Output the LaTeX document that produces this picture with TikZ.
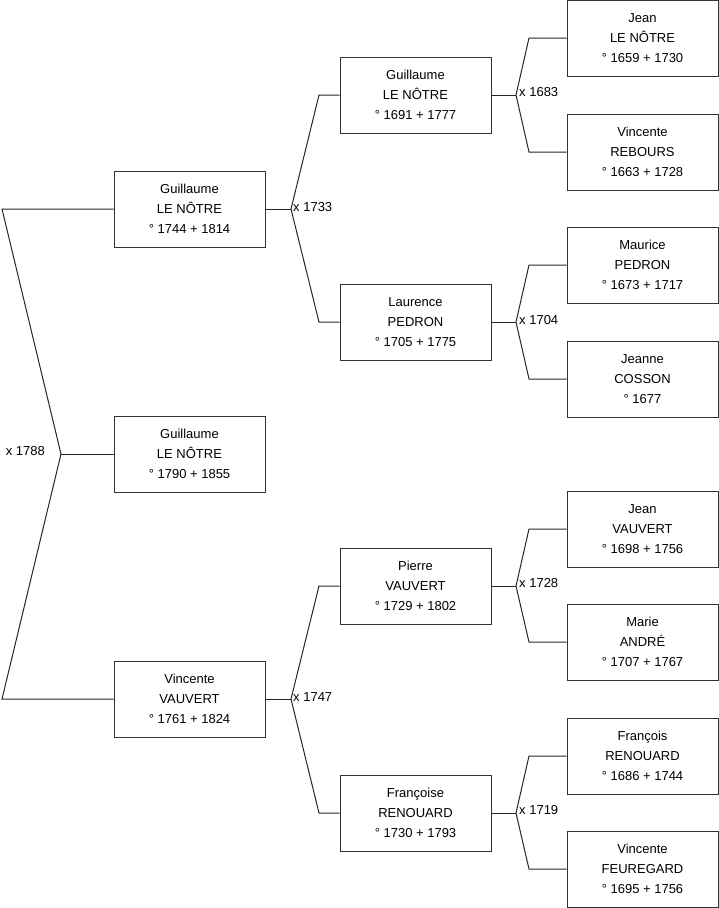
\documentclass[tikz,border=0pt]{standalone}
\usepackage{fontspec}
\setmainfont{Liberation Sans}
\begin{document}
\begin{tikzpicture}[x=1pt,y=-1pt,
  person/.style={draw=black!80,line width=1pt,fill=white,minimum width=151pt,minimum height=76pt,
    inner sep=0pt,align=center,font=\fontsize{13}{20}\selectfont,
    execute at end node={\\[-16pt]\mbox{}}},
  link/.style={draw=black!85,line width=1pt},
  marr/.style={inner sep=0pt,font=\fontsize{13}{16}\selectfont}]
\useasboundingbox (0,0) rectangle (719,908);
% column 1
\node[person] (p1) at (189.5,209) {Guillaume\\LE NÔTRE\\° 1744 + 1814};
\node[person] (p0) at (189.5,454) {Guillaume\\LE NÔTRE\\° 1790 + 1855};
\node[person] (p2) at (189.5,699) {Vincente\\VAUVERT\\° 1761 + 1824};
% column 2
\node[person] (g1) at (415.5,95) {Guillaume\\LE NÔTRE\\° 1691 + 1777};
\node[person] (g2) at (415.5,322) {Laurence\\PEDRON\\° 1705 + 1775};
\node[person] (g3) at (415.5,586) {Pierre\\VAUVERT\\° 1729 + 1802};
\node[person] (g4) at (415.5,813) {Françoise\\RENOUARD\\° 1730 + 1793};
% column 3
\node[person] (h1) at (642.5,38) {Jean\\LE NÔTRE\\° 1659 + 1730};
\node[person] (h2) at (642.5,152) {Vincente\\REBOURS\\° 1663 + 1728};
\node[person] (h3) at (642.5,265) {Maurice\\PEDRON\\° 1673 + 1717};
\node[person] (h4) at (642.5,379) {Jeanne\\COSSON\\° 1677};
\node[person] (h5) at (642.5,529) {Jean\\VAUVERT\\° 1698 + 1756};
\node[person] (h6) at (642.5,642) {Marie\\ANDRÉ\\° 1707 + 1767};
\node[person] (h7) at (642.5,756) {François\\RENOUARD\\° 1686 + 1744};
\node[person] (h8) at (642.5,869) {Vincente\\FEUREGARD\\° 1695 + 1756};
% first level
\coordinate (m0) at (61,454);
\coordinate (m0a) at (2,209);
\coordinate (m0b) at (2,699);
\draw[link] (p1.west) -- (m0a) -- (m0) -- (m0b) -- (p2.west);
\draw[link] (m0) -- (p0.west);
\node[marr,anchor=east] (x0) at (45,451) {x 1788};
% second level
\coordinate (m1) at (291,209);
\coordinate (m1a) at (319,95);
\coordinate (m1b) at (319,322);
\draw[link] (p1.east) -- (m1);
\draw[link] (g1.west) -- (m1a) -- (m1) -- (m1b) -- (g2.west);
\node[marr,anchor=west] (x1) at (293,207) {x 1733};
\coordinate (m2) at (291,699);
\coordinate (m2a) at (319,586);
\coordinate (m2b) at (319,813);
\draw[link] (p2.east) -- (m2);
\draw[link] (g3.west) -- (m2a) -- (m2) -- (m2b) -- (g4.west);
\node[marr,anchor=west] (x2) at (293,697) {x 1747};
% third level
\coordinate (n1) at (516,95);
\coordinate (n1a) at (529,38);
\coordinate (n1b) at (529,152);
\draw[link] (g1.east) -- (n1);
\draw[link] (h1.west) -- (n1a) -- (n1) -- (n1b) -- (h2.west);
\node[marr,anchor=west] (y1) at (519,92) {x 1683};
\coordinate (n2) at (516,322);
\coordinate (n2a) at (529,265);
\coordinate (n2b) at (529,379);
\draw[link] (g2.east) -- (n2);
\draw[link] (h3.west) -- (n2a) -- (n2) -- (n2b) -- (h4.west);
\node[marr,anchor=west] (y2) at (519,320) {x 1704};
\coordinate (n3) at (516,586);
\coordinate (n3a) at (529,529);
\coordinate (n3b) at (529,642);
\draw[link] (g3.east) -- (n3);
\draw[link] (h5.west) -- (n3a) -- (n3) -- (n3b) -- (h6.west);
\node[marr,anchor=west] (y3) at (519,583) {x 1728};
\coordinate (n4) at (516,813);
\coordinate (n4a) at (529,756);
\coordinate (n4b) at (529,869);
\draw[link] (g4.east) -- (n4);
\draw[link] (h7.west) -- (n4a) -- (n4) -- (n4b) -- (h8.west);
\node[marr,anchor=west] (y4) at (519,810) {x 1719};
\end{tikzpicture}
\end{document}
